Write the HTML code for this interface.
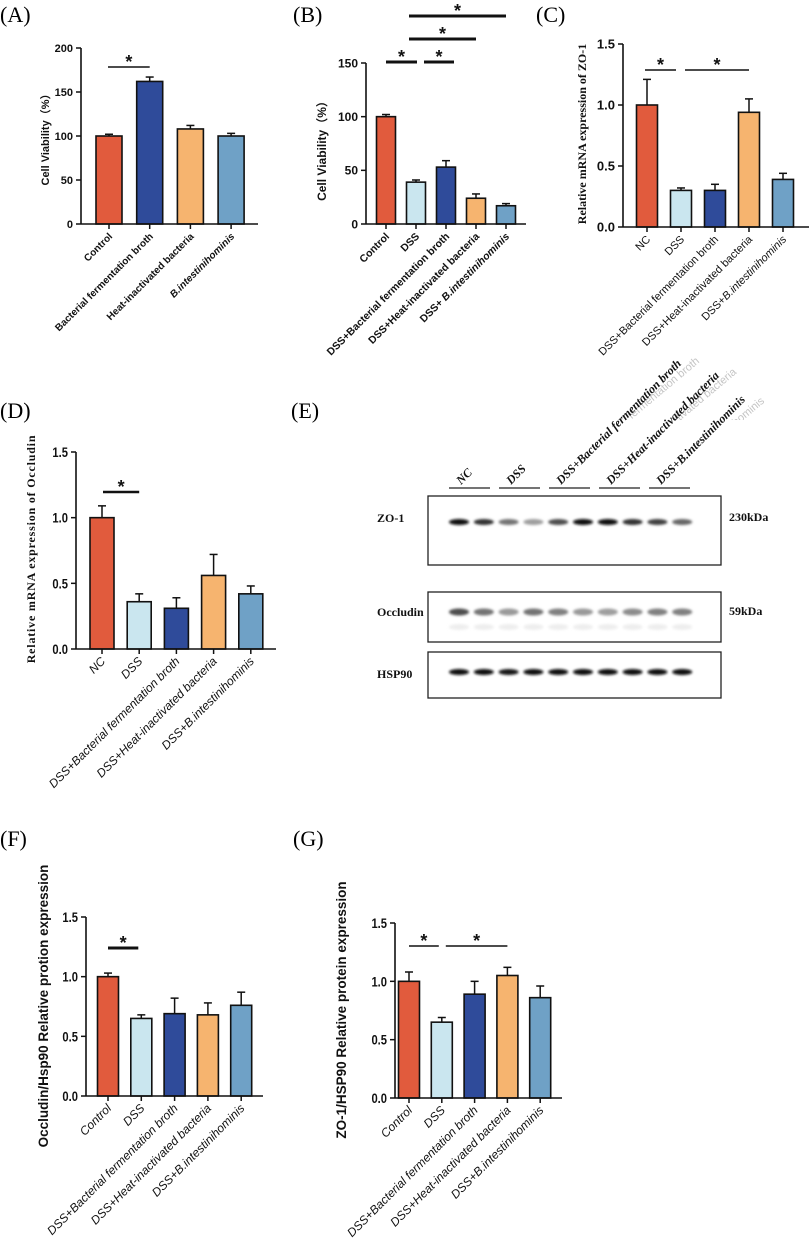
<!DOCTYPE html>
<html><head><meta charset="utf-8"><style>
html,body{margin:0;padding:0;background:#fff;width:809px;height:1256px;overflow:hidden}
svg{display:block}
.pl{font-family:"Liberation Serif",serif;font-size:22px}
</style></head><body>
<svg id="fig" width="809" height="1256" viewBox="0 0 809 1256" xmlns="http://www.w3.org/2000/svg">
<defs>
<filter id="blur" x="-50%" y="-100%" width="200%" height="300%"><feGaussianBlur stdDeviation="1.2"/></filter>
<clipPath id="ghostClip"><rect x="588" y="330" width="221" height="90"/></clipPath>
</defs>
<text class="pl" x="0" y="22">(A)</text>
<text class="pl" x="293" y="22">(B)</text>
<text class="pl" x="536" y="22">(C)</text>
<text class="pl" x="0" y="418">(D)</text>
<text class="pl" x="291" y="418">(E)</text>
<text class="pl" x="0" y="846">(F)</text>
<text class="pl" x="293" y="846">(G)</text>
<g id="ghost" clip-path="url(#ghostClip)" fill="#c4c4c4" font-family="Liberation Sans, sans-serif" font-size="11">
<text text-anchor="end" transform="translate(700,362) rotate(-40)">DSS+Bacterial fermentation broth</text>
<text text-anchor="end" transform="translate(737,373) rotate(-40)">DSS+Heat-inactivated bacteria</text>
<text text-anchor="end" transform="translate(765,402) rotate(-40)">DSS+B.intestinihominis</text>
</g>
</svg>
<script>
const NS="http://www.w3.org/2000/svg";
const fig=document.getElementById('fig');
const COLORS5=["#E15B3D","#CAE6EF","#2F4B9A","#F6B46F","#6FA1C6"];
const COLORS4=["#E15B3D","#2F4B9A","#F6B46F","#6FA1C6"];

// Panel A data
const catsA=["Control","Bacterial fermentation broth","Heat-inactivated bacteria","B.intestinihominis"];
const valsA=[100,162,108,100];
const errA=[102,167,112,103];
const ticksA=[0,50,100,150,200];
const tickLabelsA=["0","50","100","150","200"];
// Panel B data
const catsB=["Control","DSS","DSS+Bacterial fermentation broth","DSS+Heat-inactivated bacteria","DSS+ B.intestinihominis"];
const valsB=[100,39,53,24,17];
const errB=[102,41,59,28,19];
const ticksB=[0,50,100,150];
const tickLabelsB=["0","50","100","150"];
// Panel C data
const catsC=["NC","DSS","DSS+Bacterial fermentation broth","DSS+Heat-inactivated bacteria","DSS+B.intestinihominis"];
const valsC=[1.0,0.30,0.30,0.94,0.39];
const errC=[1.21,0.32,0.35,1.05,0.44];
const ticks15=[0,0.5,1.0,1.5];
const tickLabels15=["0.0","0.5","1.0","1.5"];
// Panel D data
const catsD=["NC","DSS","DSS+Bacterial fermentation broth","DSS+Heat-inactivated bacteria","DSS+B.intestinihominis"];
const valsD=[1.0,0.36,0.31,0.56,0.42];
const errD=[1.09,0.42,0.39,0.72,0.48];
// Panel F data
const catsF=["Control","DSS","DSS+Bacterial fermentation broth","DSS+Heat-inactivated bacteria","DSS+B.intestinihominis"];
const valsF=[1.0,0.65,0.69,0.68,0.76];
const errF=[1.03,0.68,0.82,0.78,0.87];
// Panel G data
const catsG=["Control","DSS","DSS+Bacterial fermentation broth","DSS+Heat-inactivated bacteria","DSS+B.intestinihominis"];
const valsG=[1.0,0.65,0.89,1.05,0.86];
const errG=[1.08,0.69,1.0,1.12,0.96];
// Western blot band intensities
const zoBands=[0.95,0.8,0.55,0.38,0.7,0.95,0.95,0.8,0.75,0.6];
const occBands=[0.7,0.55,0.4,0.55,0.5,0.4,0.38,0.45,0.5,0.5];
const hspBands=[0.95,0.95,0.9,0.95,0.95,0.97,0.95,0.95,0.95,0.97];
const groupsE=["NC","DSS","DSS+Bacterial fermentation broth","DSS+Heat-inactivated bacteria","DSS+B.intestinihominis"];

function el(tag,attrs,parent){const e=document.createElementNS(NS,tag);for(const k in attrs)e.setAttribute(k,attrs[k]);(parent||fig).appendChild(e);return e;}

function addLabel(g,txt,italicAll){
  const i=txt.indexOf("B.intestinihominis");
  if(italicAll||i<0){const t=document.createElementNS(NS,'tspan');t.textContent=txt;g.appendChild(t);if(italicAll)g.setAttribute('font-style','italic');return;}
  if(i>0){const t1=document.createElementNS(NS,'tspan');t1.textContent=txt.slice(0,i);g.appendChild(t1);}
  const t2=document.createElementNS(NS,'tspan');t2.setAttribute('font-style','italic');t2.textContent=txt.slice(i);g.appendChild(t2);
}

function panel(p,cats,vals,errs,ticks,tickLabels,colors){
  const g=el('g',{});
  
  
  const ys=v=>p.yBot-(v/p.max)*(p.yBot-p.yTop);
  const xs=i=>p.c0+i*p.step;
  // bars
  vals.forEach((v,i)=>{
    const cx=xs(i);
    const ln=el('line',{x1:cx,x2:cx,y1:ys(v),y2:ys(errs[i]),stroke:'#111','stroke-width':1.5},g);
    
    
    const cap=el('line',{x1:cx-4,x2:cx+4,y1:ys(errs[i]),y2:ys(errs[i]),stroke:'#111','stroke-width':1.5},g);
    
    
    const r=el('rect',{x:cx-p.bw/2,y:ys(v),width:p.bw,height:ys(0)-ys(v),fill:colors[i],stroke:'#111','stroke-width':1.6},g);
    
    
    const tk=el('line',{x1:cx,x2:cx,y1:p.yBot,y2:p.yBot+5,stroke:'#111','stroke-width':1.5},g);
    
    
    const lt=el('text',{'text-anchor':'end','font-family':'Liberation Sans, sans-serif','font-size':p.catSize,'font-weight':p.catWeight,fill:'#111',transform:`translate(${cx+4},${p.yBot+13}) rotate(-45)`},g);
    
    
    addLabel(lt,cats[i],p.italicAll);
  });
  // axes
  const ya=el('line',{x1:p.ax,x2:p.ax,y1:p.yTop,y2:p.yBot,stroke:'#111','stroke-width':1.6},g);
  
  
  const xa=el('line',{x1:p.ax,x2:p.xEnd,y1:p.yBot,y2:p.yBot,stroke:'#111','stroke-width':1.6},g);
  
  
  ticks.forEach((t,i)=>{
    const tk=el('line',{x1:p.ax-5,x2:p.ax,y1:ys(t),y2:ys(t),stroke:'#111','stroke-width':1.5},g);
    
    
    const tl=el('text',{x:p.ax-8,y:ys(t)+p.tickSize*0.36,'text-anchor':'end','font-family':'Liberation Sans, sans-serif','font-size':p.tickSize,'font-weight':'bold',fill:'#111',transform:p.narrow?`translate(${p.ax-8},0) scale(0.8,1) translate(${-(p.ax-8)},0)`:''},g);
    
    
    tl.textContent=tickLabels[i];
  });
  // y title
  const yt=el('text',{'text-anchor':'middle','font-family':p.titleFont,'font-size':p.titleSize,'font-weight':'bold',fill:'#111','letter-spacing':p.titleLs||0,transform:`translate(${p.tx},${p.ty}) rotate(-90)`},g);
  
  
  yt.textContent=p.title;
  // significance
  (p.sig||[]).forEach(s=>{
    const x1=xs(s[0])+(s[3]||0), x2=xs(s[1])+(s[4]||0);
    const sl=el('line',{x1:x1,x2:x2,y1:s[2],y2:s[2],stroke:'#111','stroke-width':p.sigW||1.6},g);
    
    
    const st=el('text',{x:(x1+x2)/2,y:s[2]+1,'text-anchor':'middle','font-family':'Liberation Sans, sans-serif','font-size':18,'font-weight':'bold',fill:'#111'},g);
    
    
    st.textContent='*';
  });
}

panel({name:'chart-a',ax:81,yTop:48,yBot:224,max:200,xEnd:258,c0:109,step:40.7,bw:26,catSize:10,catWeight:'bold',tickSize:11,
  title:'Cell Viability（%）',titleFont:'Liberation Sans, "Noto Sans CJK SC", sans-serif',titleSize:11,tx:49,ty:137,sig:[[0,1,67,-1,0]]},
  catsA,valsA,errA,ticksA,tickLabelsA,COLORS4);
panel({name:'chart-b',ax:366,yTop:63,yBot:224,max:150,xEnd:526,c0:386,step:30,bw:19,catSize:10.5,catWeight:'bold',tickSize:12,
  title:'Cell Viability（%）',titleFont:'Liberation Sans, "Noto Sans CJK SC", sans-serif',titleSize:12,tx:326,ty:148,sigW:3,
  sig:[[0,1,62,0,1],[1,2,62,8,8],[1,3,39,-7,0],[1,4,16,-7,0]]},
  catsB,valsB,errB,ticksB,tickLabelsB,COLORS5);
panel({name:'chart-c',ax:623,yTop:44,yBot:227,max:1.5,xEnd:809,c0:647,step:34,bw:21,catSize:11,catWeight:'normal',tickSize:13,
  title:'Relative mRNA expression of ZO-1',titleFont:'Liberation Serif, serif',titleSize:12,tx:586,ty:134,
  sig:[[0,1,70,-2,-5],[1,3,70,4,0]]},
  catsC,valsC,errC,ticks15,tickLabels15,COLORS5);
panel({name:'chart-d',ax:76,yTop:452,yBot:649,max:1.5,xEnd:276,c0:102,step:37.2,bw:24,catSize:12,catWeight:'normal',italicAll:true,tickSize:14,narrow:true,
  title:'Relative mRNA expression of Occludin',titleFont:'Liberation Serif, serif',titleSize:12,titleLs:0.8,tx:35,ty:549,sigW:2.5,
  sig:[[0,1,492,1,0]]},
  catsD,valsD,errD,ticks15,tickLabels15,COLORS5);
panel({name:'chart-f',ax:86,yTop:917,yBot:1096,max:1.5,xEnd:263,c0:108,step:33.3,bw:21,catSize:12,catWeight:'normal',italicAll:true,tickSize:14,narrow:true,
  title:'Occludin/Hsp90 Relative protion expression',titleFont:'Liberation Sans, sans-serif',titleSize:13.5,tx:48,ty:1006,sigW:3,
  sig:[[0,1,948,0,-3]]},
  catsF,valsF,errF,ticks15,tickLabels15,COLORS5);
panel({name:'chart-g',ax:395,yTop:923,yBot:1098,max:1.5,xEnd:562,c0:409,step:32.8,bw:21,catSize:12,catWeight:'normal',italicAll:true,tickSize:14,narrow:true,
  title:'ZO-1/HSP90 Relative protein expression',titleFont:'Liberation Sans, sans-serif',titleSize:13.5,tx:346,ty:1010,
  sig:[[0,1,946,0,-3],[1,3,946,4,0]]},
  catsG,valsG,errG,ticks15,tickLabels15,COLORS5);

// Western blot panel E
(function(){
  const g=el('g',{});
  
  
  const lx=i=>459+i*24.8;
  const boxes=[[496,565,'ZO-1',518,'230kDa',zoBands,522,5],[592,642,'Occludin',612,'59kDa',occBands,612,6],[652,698,'HSP90',674,null,hspBands,672,5]];
  boxes.forEach((b,bi)=>{
    const r=el('rect',{x:428,y:b[0],width:293,height:b[1]-b[0],fill:'#fff',stroke:'#222','stroke-width':1.3},g);
    
    
    const t=el('text',{x:377,y:b[3]+4,'font-family':'Liberation Serif, serif','font-size':12,'font-weight':'bold',fill:'#111'},g);
    
    
    t.textContent=b[2];
    if(b[4]){const k=el('text',{x:729,y:b[3]+3,'font-family':'Liberation Serif, serif','font-size':12,'font-weight':'bold',fill:'#111'},g);
      
      
      k.textContent=b[4];}
    b[5].forEach((v,i)=>{
      const c=Math.round(255*(1-v));
      const e=el('ellipse',{cx:lx(i),cy:b[6],rx:10,ry:b[7]/2+0.5,fill:`rgb(${c},${c},${c})`,filter:'url(#blur)'},g);
      
      
      if(bi===1){const e2=el('ellipse',{cx:lx(i),cy:627,rx:10,ry:3,fill:'#eee',filter:'url(#blur)'},g);
        
        }
    });
  });
  groupsE.forEach((nm,i)=>{
    const x0=449+i*50;
    const l=el('line',{x1:x0,x2:x0+41,y1:488,y2:488,stroke:'#222','stroke-width':1.2},g);
    
    
    const t=el('text',{'font-family':'Liberation Serif, serif','font-size':12,'font-weight':'bold','font-style':'italic',fill:'#111',transform:`translate(${x0+12},${485}) rotate(-45)`},g);
    
    
    t.textContent=nm;
  });
})();
</script>
</body></html>
